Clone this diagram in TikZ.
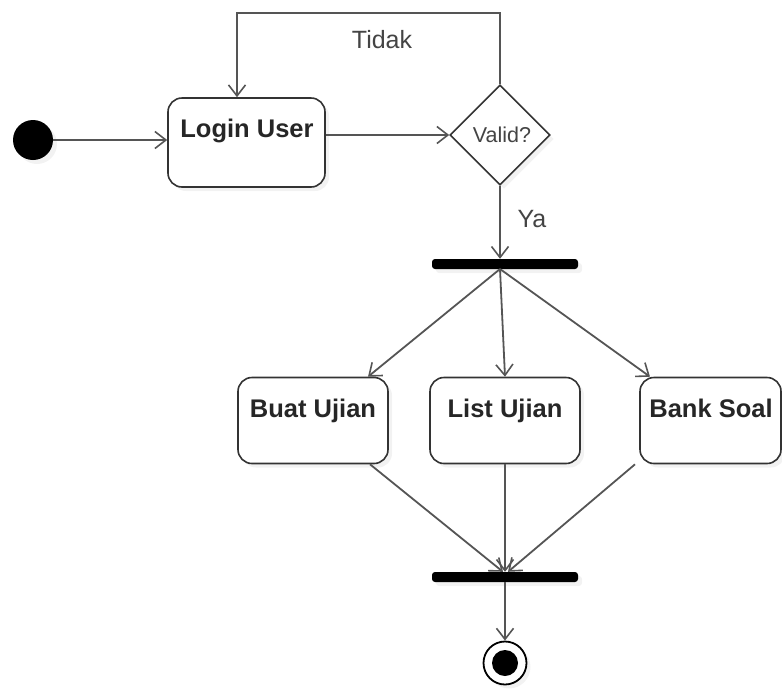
\documentclass[tikz,border=0pt]{standalone}
\usepackage{fontspec}
\setmainfont{Liberation Sans}
\usetikzlibrary{arrows.meta,shapes.geometric,shadows,calc}
\definecolor{edgec}{HTML}{555555}
\definecolor{borderc}{HTML}{333333}
\definecolor{txtc}{HTML}{444444}
\tikzset{
  shd/.style={drop shadow={opacity=0.10,shadow xshift=4pt,shadow yshift=-4pt}},
  act/.style={draw=borderc,line width=1.6pt,rounded corners=14pt,fill=white,shd,inner sep=0pt},
  acttext/.style={font=\fontsize{25.5}{29}\selectfont\bfseries,text=black!85,anchor=base,inner sep=0pt},
  edge/.style={draw=edgec,line width=1.8pt,-{Straight Barb[length=11pt,width=17pt,line width=1.6pt]}},
  barnode/.style={fill=black,minimum width=146pt,minimum height=10pt,inner sep=0pt,rounded corners=3pt,shd},
  lbl/.style={font=\fontsize{25}{29}\selectfont,text=txtc}
}
\begin{document}
\begin{tikzpicture}[x=1pt,y=-1pt]
\useasboundingbox (0,0) rectangle (782,694);
% start
\node[circle,fill=black,minimum size=40pt,inner sep=0pt,shd] (start) at (33,140) {};
% login
\node[act,minimum width=157pt,minimum height=89pt] (login) at (246.5,142.5) {};
\node[acttext] (logintxt) at (247,137) {Login User};
% decision
\node[diamond,draw=borderc,line width=1.6pt,fill=white,minimum width=100pt,minimum height=100pt,inner sep=0pt,shd,font=\fontsize{21.5}{25}\selectfont,text=txtc] (valid) at (500,135) {\kern 4pt Valid?};
\draw[edge] (start.east) -- (login.west |- start.east);
\draw[edge] (login.east |- valid.west) -- (valid.west);
% loop back
\coordinate (loopR) at (500,13);
\coordinate (loopL) at (237,13);
\draw[edge] (valid.north) -- (loopR) -- (loopL) -- (loopL |- login.north);
\node[lbl] (tidak) at (382,40) {Tidak};
% fork
\node[barnode] (fork) at (505,264) {};
\draw[edge] (valid.south) -- (valid.south |- fork.north);
\node[lbl] (ya) at (532,219) {Ya};
% activities
\node[act,minimum width=150pt,minimum height=86pt] (buat) at (313,420.5) {};
\node[acttext] (buattxt) at (313,417) {Buat Ujian};
\node[act,minimum width=150pt,minimum height=86pt] (list) at (505,420.5) {};
\node[acttext] (listtxt) at (505,417) {List Ujian};
\node[act,minimum width=141pt,minimum height=86pt] (bank) at (710.5,420.5) {};
\node[acttext] (banktxt) at (711,417) {Bank Soal};
\coordinate (fo) at (500,269);
\draw[edge] (fo) -- (buat.north -| 368,0);
\draw[edge] (fo) -- (list.north -| 505,0);
\draw[edge] (fo) -- (bank.north -| 650,0);
% join
\node[barnode] (join) at (505,577) {};
\draw[edge] (buat.south -| 370,0) -- (join.north -| 503,0);
\draw[edge] (list.south -| 505,0) -- (join.north -| 505,0);
\draw[edge] (bank.south -| 635,0) -- (join.north -| 508,0);
% end
\node[circle,draw=black,line width=1.8pt,fill=white,minimum size=43pt,inner sep=0pt,shd] (endc) at (505,663) {};
\node[circle,fill=black,minimum size=26pt,inner sep=0pt] (endin) at (endc) {};
\draw[edge] (join.south) -- (endc.north);
\end{tikzpicture}
\end{document}
